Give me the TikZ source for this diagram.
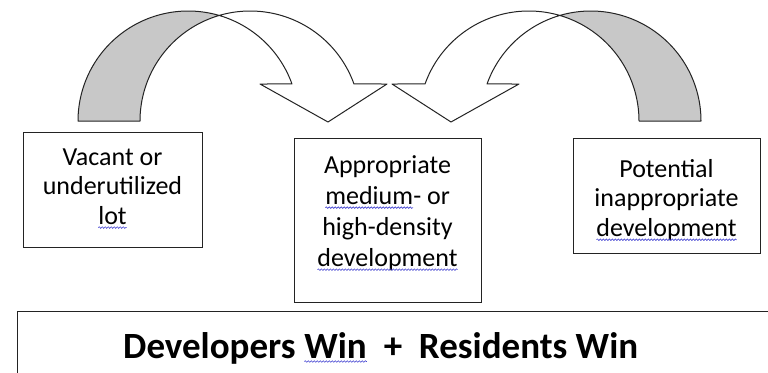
\documentclass[tikz,border=0pt]{standalone}
\usepackage{fontspec}
\setmainfont{Carlito}
\usetikzlibrary{decorations.pathmorphing}
\definecolor{bandgray}{RGB}{200,200,200}
\definecolor{edge}{RGB}{35,35,35}
\definecolor{spell}{RGB}{70,70,210}
\newcommand\wavy[1]{\tikz[baseline=(wv.base)]{\node[inner sep=0pt,outer sep=0pt,minimum width=0pt,minimum height=0pt,draw=none,fill=none,align=left] (wv) {#1};\draw[spell,line width=0.6pt,decorate,decoration={snake,amplitude=0.8pt,segment length=3pt}] ([yshift=-3.5pt]wv.base west) -- ([yshift=-3.5pt]wv.base east);}}
\newcommand\curvedarrow{%
  \filldraw[fill=bandgray, draw=edge, line width=1pt, line join=round]
    plot[domain=180:286.34, samples=60, variable=\t] ({188.2+110.2*cos(\t)},{121+110*sin(\t)})
    -- plot[domain=253.66:180, samples=60, variable=\t] ({250.2+110.2*cos(\t)},{121+110*sin(\t)})
    -- cycle;
  \filldraw[fill=white, draw=edge, line width=1pt, line join=round]
    plot[domain=253.66:340.34, samples=80, variable=\t] ({250.2+110.2*cos(\t)},{121+110*sin(\t)})
    -- (387,84) -- (328,122) -- (260,84)
    -- plot[domain=340.34:286.34, samples=60, variable=\t] ({188.2+110.2*cos(\t)},{121+110*sin(\t)})
    -- cycle;
}
\tikzset{
  frame/.style={draw=edge, line width=1pt, inner sep=0pt},
  label/.style={align=center, inner sep=0pt, font=\fontsize{26}{29.5}\selectfont},
}
\begin{document}
\begin{tikzpicture}[x=1pt,y=-1pt]
\useasboundingbox[fill=white] (0,0) rectangle (768,372);
% arrows
\curvedarrow
\begin{scope}[xshift=779pt, xscale=-1]
  \curvedarrow
\end{scope}
% boxes
\node[frame, minimum width=179pt, minimum height=115pt] (vacant) at (112.5,189.5) {};
\node[label] (vacanttext) at (112.5,188.5) {Vacant or\\underutilized\\\wavy{lot}};
\node[frame, minimum width=187pt, minimum height=164pt] (approp) at (387.5,220) {};
\node[label, font=\fontsize{26}{31}\selectfont] (approptext) at (387.5,213) {Appropriate\\\wavy{medium}- or\\high-density\\\wavy{development}};
\node[frame, minimum width=187pt, minimum height=115pt] (potential) at (666.5,195.5) {};
\node[label] (potentialtext) at (666.5,200) {Potential\\inappropriate\\\wavy{development}};
% bottom panel
\node[frame, anchor=north west, minimum width=800pt, minimum height=100pt] (panel) at (17,311) {};
\node[anchor=base west, inner sep=0pt, font=\bfseries\fontsize{37}{44}\selectfont] (win) at (123,358)
  {Developers \wavy{Win}\ \ +\ \ Residents Win};
\end{tikzpicture}
\end{document}
